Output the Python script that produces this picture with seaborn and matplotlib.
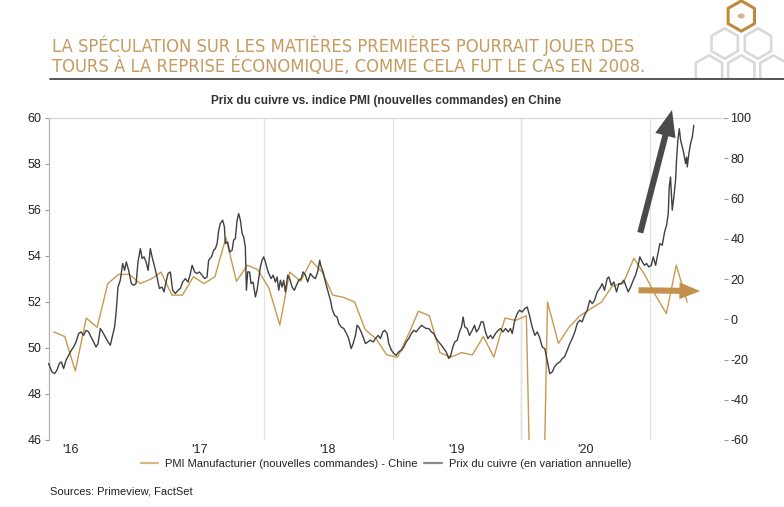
import pandas as pd
import matplotlib
matplotlib.use("Agg")
import matplotlib.pyplot as plt
import matplotlib.dates as mdates
from matplotlib.lines import Line2D
from matplotlib.patches import RegularPolygon, Rectangle, Ellipse
from matplotlib.ticker import FixedLocator
import seaborn as sns

# ---- data ----
# PMI new orders (China), monthly, May 2016 -> Apr 2021
pmi_start = "2016-05-01"
pmi_values = [
    50.7, 50.5, 49.0, 51.3, 50.9, 52.8, 53.2, 53.2,
    52.8, 53.0, 53.3, 52.3, 52.3, 53.1, 52.8, 53.1, 54.8, 52.9, 53.6, 53.4,
    52.6, 51.0, 53.3, 52.9, 53.8, 53.3, 52.3, 52.2, 52.0, 50.8, 50.4, 49.7,
    49.6, 50.6, 51.6, 51.4, 49.8, 49.6, 49.8, 49.7, 50.5, 49.6, 51.3, 51.2,
    51.4, 29.3, 52.0, 50.2, 50.9, 51.4, 51.7, 52.0, 52.7, 52.8, 53.9, 53.2,
    52.3, 51.5, 53.6, 52.0,
]

# copper price, yoy %, position = months elapsed since 1 Jan 2016
copper_month = [
    3.95, 4.27, 4.51, 4.73, 4.95, 5.14, 5.35, 5.57, 5.82, 6.07, 6.28, 6.51, 6.75, 6.97,
    7.21, 7.44, 7.68, 7.90, 8.15, 8.37, 8.56, 8.77, 8.98, 9.24, 9.49, 9.70, 9.92, 10.10,
    10.23, 10.42, 10.63, 10.85, 11.03, 11.19, 11.41, 11.66, 11.87, 12.10, 12.28, 12.50,
    12.66, 12.84, 13.03, 13.22, 13.43, 13.59, 13.83, 14.05, 14.27, 14.52, 14.71, 14.89,
    15.08, 15.29, 15.51, 15.76, 16.01, 16.23, 16.44, 16.69, 16.94, 17.16, 17.32, 17.56,
    17.78, 18.00, 18.25, 18.49, 18.71, 18.86, 19.12, 19.33,
    19.49, 19.65, 19.80, 19.95, 20.17, 20.33, 20.42, 20.63, 20.82, 21.05, 21.19, 21.35,
    21.51, 21.66, 21.82, 21.98, 22.13, 22.28, 22.38, 22.50, 22.68, 22.81, 23.00, 23.22,
    23.37, 23.52, 23.68, 23.84, 23.99, 24.15, 24.31, 24.46, 24.68, 24.87, 25.08, 25.24,
    25.39, 25.55, 25.70, 25.85, 26.01, 26.23, 26.41, 26.64, 26.85, 27.04, 27.25, 27.48,
    27.66, 27.88, 28.09, 28.34, 28.59, 28.81, 29.02, 29.21, 29.34, 29.53, 29.74, 29.95,
    30.21, 30.36, 30.58, 30.83, 30.98, 31.20, 31.45, 31.70, 31.91, 32.14, 32.32, 32.54,
    32.69, 32.84, 33.07, 33.25, 33.47, 33.68, 33.93, 34.19, 34.40,
    34.65, 34.87, 35.08, 35.27, 35.49, 35.64, 35.89, 36.11, 36.33, 36.57, 36.82, 37.04,
    37.26, 37.50, 37.75, 37.97, 38.19, 38.44, 38.69, 38.90, 39.13, 39.37, 39.62, 39.83,
    40.06, 40.30, 40.55, 40.77, 40.99, 41.23, 41.42, 41.61, 41.79, 42.02, 42.23, 42.42,
    42.57, 42.72, 42.95, 43.16, 43.41, 43.63, 43.81, 44.03, 44.25, 44.44, 44.65, 44.87,
    45.12, 45.33, 45.58, 45.84, 46.05, 46.27, 46.52, 46.77, 46.98, 47.14, 47.38, 47.61,
    47.82, 48.07, 48.31, 48.54, 48.75, 49.00, 49.25, 49.47, 49.68, 49.94, 50.18,
    50.46, 50.64, 50.87, 51.08, 51.33, 51.58, 51.80, 52.01, 52.27, 52.51, 52.73, 52.98,
    53.20, 53.44, 53.66, 53.88, 54.13, 54.37, 54.60, 54.81, 55.06, 55.30, 55.53, 55.74,
    55.99, 56.14, 56.37, 56.61, 56.86, 57.08, 57.30, 57.54, 57.77, 57.95, 58.17, 58.42,
    58.63, 58.85, 59.03, 59.26, 59.47, 59.66, 59.87, 60.10, 60.28, 60.50, 60.71, 60.90,
    61.12, 61.34, 61.52, 61.68, 61.77, 61.89, 62.05, 62.20, 62.36, 62.45, 62.57, 62.71,
    62.83, 62.99, 63.13, 63.29, 63.39, 63.45, 63.60, 63.76, 63.92, 64.06,
]
copper_yoy = [
    -22.0, -26.2, -27.0, -25.3, -22.0, -21.2, -24.5, -20.4, -17.9, -15.4, -13.8, -11.3, -7.1, -6.3,
    -8.0, -5.5, -6.3, -8.8, -11.3, -13.8, -12.1, -4.6, -6.3, -8.8, -11.3, -12.9, -8.0, -3.8,
    2.8, 16.0, 19.4, 27.7, 24.3, 28.5, 24.3, 17.7, 16.9, 17.7, 28.5, 35.1,
    30.2, 31.0, 28.5, 24.3, 35.1, 31.0, 26.0, 21.0, 15.3, 16.0, 13.6, 18.5,
    22.7, 23.5, 14.4, 12.8, 14.4, 15.3, 18.5, 20.2, 18.5, 22.7, 26.8, 23.5,
    22.7, 23.5, 21.9, 20.2, 21.0, 29.3, 31.0, 34.3,
    35.1, 37.6, 44.2, 47.6, 49.2, 45.9, 37.6, 38.4, 33.4, 34.3, 39.3, 40.1,
    49.2, 52.5, 49.2, 42.6, 40.9, 35.9, 14.4, 23.5, 23.5, 17.7, 18.5, 11.1,
    14.4, 20.2, 26.0, 29.3, 31.0, 28.5, 25.2, 22.7, 20.2, 21.9, 18.5, 21.0,
    14.4, 19.4, 16.0, 19.4, 13.6, 21.9, 20.2, 16.0, 14.4, 16.9, 19.4, 20.2,
    23.5, 21.9, 18.5, 22.7, 21.0, 20.2, 23.5, 29.3, 26.0, 23.5, 18.5, 14.4,
    9.4, 5.3, 2.0, 1.1, -2.1, -3.8, -4.6, -7.1, -9.6, -14.6, -12.1, -8.0,
    -3.0, -3.8, -6.3, -8.8, -12.1, -11.3, -10.4, -11.3, -9.6,
    -8.0, -9.6, -6.3, -5.5, -7.1, -12.1, -15.4, -17.0, -17.9, -16.2, -15.4, -13.8,
    -11.3, -9.6, -7.1, -5.5, -6.3, -4.6, -3.0, -3.8, -4.6, -4.6, -6.3, -7.1,
    -9.6, -11.3, -12.9, -14.6, -16.2, -19.5, -17.9, -13.8, -11.3, -10.4, -6.3, -3.8,
    1.1, -3.8, -4.6, -8.0, -5.5, -3.0, -6.3, -4.6, -1.3, -1.3, -6.3, -9.6,
    -8.0, -9.6, -7.1, -5.5, -4.6, -6.3, -4.6, -6.3, -4.6, -7.1, -0.5, 2.8,
    4.5, 3.6, 5.3, 6.1, 2.0, -3.8, -8.0, -6.3, -8.8, -13.8, -14.6,
    -22.0, -27.0, -26.2, -23.7, -22.0, -21.2, -19.5, -18.7, -15.4, -12.1, -9.6, -6.3,
    -2.1, -0.5, -1.3, 2.0, 4.5, 9.4, 7.8, 9.4, 13.6, 15.3, 17.7, 14.4,
    20.2, 21.0, 16.9, 18.5, 13.6, 17.7, 17.7, 19.4, 16.0, 13.6, 16.0, 19.4,
    21.9, 26.0, 31.0, 28.5, 26.8, 27.7, 26.0, 26.8, 31.0, 26.8, 32.6, 37.6,
    36.8, 43.4, 46.7, 52.5, 65.7, 70.7, 54.2, 60.8, 69.1, 79.0, 88.9, 94.7,
    88.9, 85.6, 82.3, 77.4, 80.6, 75.7, 82.3, 87.3, 90.6, 96.4,
]

year_labels = ["'16", "'17", "'18", "'19", "'20"]
left_ticks = [46, 48, 50, 52, 54, 56, 58, 60]
right_ticks = [-60, -40, -20, 0, 20, 40, 60, 80, 100]

header = ("LA SPÉCULATION SUR LES MATIÈRES PREMIÈRES POURRAIT JOUER DES\n"
          "TOURS À LA REPRISE ÉCONOMIQUE, COMME CELA FUT LE CAS EN 2008.")
title = "Prix du cuivre vs. indice PMI (nouvelles commandes) en Chine"
pmi_label = "PMI Manufacturier (nouvelles commandes) - Chine"
copper_label = "Prix du cuivre (en variation annuelle)"
source = "Sources: Primeview, FactSet"

GOLD = "#C8994F"
DARK = "#404040"

# ---- frames ----
origin = pd.Timestamp("2016-01-01")
pmi_df = pd.DataFrame({
    "date": pd.date_range(pmi_start, periods=len(pmi_values), freq="MS") + pd.Timedelta(days=14),
    "pmi": pmi_values,
})
copper_df = pd.DataFrame({
    "date": [origin + pd.Timedelta(days=m * 30.4375) for m in copper_month],
    "yoy": copper_yoy,
})

sns.set_theme(style="white")
plt.rcParams["font.family"] = ["Liberation Sans", "DejaVu Sans"]
plt.rcParams["axes.unicode_minus"] = False

fig = plt.figure(figsize=(7.84, 5.07), dpi=100)
ax = fig.add_axes([48.5 / 784, 1 - 440 / 507, 675 / 784, 322 / 507])
ax2 = ax.twinx()

sns.lineplot(data=pmi_df, x="date", y="pmi", ax=ax, color=GOLD, linewidth=1.0)
sns.lineplot(data=copper_df, x="date", y="yoy", ax=ax2, color=DARK, linewidth=1.0)

ax.set_ylim(46, 60)
ax2.set_ylim(-60, 100)
ax.set_xlim(pd.Timestamp("2016-04-30"), pd.Timestamp("2021-07-27"))
ax.set_yticks(left_ticks)
ax2.set_yticks(right_ticks)
ax.set_xlabel("")
ax.set_ylabel("")
ax2.set_ylabel("")

# year labels centred on each year, grid lines on year boundaries
ax.set_xticks([pd.Timestamp(f"{2016 + i}-07-01") for i in range(len(year_labels))])
ax.set_xticklabels(year_labels)
ax.xaxis.set_minor_locator(FixedLocator(
    [mdates.date2num(pd.Timestamp(f"{y}-01-01")) for y in (2018, 2019, 2020, 2021)]))
ax.grid(which="minor", axis="x", color="#e2e2e2", linewidth=0.9)
ax.axvline(pd.Timestamp("2020-01-01"), color="#b8b8b8", linewidth=0.9, zorder=0.5)

ax.tick_params(axis="x", which="both", length=0, labelsize=9, pad=3, colors="#222222")
ax.tick_params(axis="y", length=3, width=0.8, color="#999999", labelsize=9, pad=2,
               labelcolor="#222222", left=True)
ax2.tick_params(axis="y", length=3, width=0.8, color="#999999", labelsize=9, pad=2,
                labelcolor="#222222", right=True)

for a in (ax, ax2):
    for s in a.spines.values():
        s.set_visible(False)
ax.spines["left"].set_visible(True)
ax.spines["left"].set_color("#b0b0b0")
ax.spines["left"].set_linewidth(0.9)
ax.spines["top"].set_visible(True)
ax.spines["top"].set_color("#d8d8d8")
ax.spines["top"].set_linewidth(0.9)

# arrows
ax2.annotate("", xy=(pd.Timestamp("2021-03-03"), 104), xytext=(pd.Timestamp("2020-12-03"), 43),
             arrowprops=dict(arrowstyle="simple,head_width=0.75,head_length=0.95,tail_width=0.22",
                             color="#4a4a4a", lw=0, shrinkA=0, shrinkB=0, mutation_scale=20),
             annotation_clip=False)
ax2.annotate("", xy=(pd.Timestamp("2021-05-22"), 14), xytext=(pd.Timestamp("2020-11-28"), 14.4),
             arrowprops=dict(arrowstyle="simple,head_width=0.6,head_length=0.75,tail_width=0.22",
                             color="#C3914B", lw=0, shrinkA=0, shrinkB=0, mutation_scale=20),
             annotation_clip=False)

# texts
head = fig.text(52 / 784, 1 - 56 / 507, header, color="#C59B5F", fontsize=15.5, va="center",
                ha="left", family="DejaVu Sans", fontstretch="condensed", linespacing=1.1)
fig.canvas.draw()
w = head.get_window_extent(fig.canvas.get_renderer()).width
head.set_fontsize(15.5 * 592 / w)

fig.add_artist(Line2D([50 / 784, 1.0], [1 - 79 / 507] * 2, color="#555555", linewidth=1.4))
fig.text(386 / 784, 1 - 101 / 507, title, ha="center", va="center", fontsize=8.5,
         fontweight="bold", color="#333333")
fig.text(50 / 784, 1 - 491 / 507, source, ha="left", va="center", fontsize=8, color="#222222")

handles = [Line2D([0], [0], color="#D9B887", lw=1.6), Line2D([0], [0], color="#8a8a8a", lw=1.6)]
fig.legend(handles, [pmi_label, copper_label], loc="center", bbox_to_anchor=(0.492, 1 - 464 / 507),
           ncol=2, frameon=False, fontsize=8, handlelength=1.6, handletextpad=0.6,
           columnspacing=0.6, labelcolor="#222222")

# logo (hexagons)
px = fig.dpi_scale_trans
def hexagon(cx, cy, color, lw):
    fig.add_artist(RegularPolygon((cx / 100, (507 - cy) / 100), numVertices=6, radius=0.152,
                                  orientation=0, fill=False, edgecolor=color, linewidth=lw,
                                  transform=px, joinstyle="round"))

hexagon(741.3, 16, "#C08A3E", 2.2)
for cx, cy in [(724.7, 43.5), (758, 43.5), (709, 70.5), (741.3, 70.5), (773.5, 70.5)]:
    hexagon(cx, cy, "#d9d9d9", 1.9)
fig.add_artist(Ellipse((741.3 / 100, (507 - 16) / 100), 0.07, 0.05, transform=px,
                       facecolor="#d7b57e", edgecolor="none"))
fig.add_artist(Rectangle((6.85, (507 - 95) / 100), 1.0, 0.155, transform=px,
                         facecolor="white", edgecolor="none", zorder=2))
fig.add_artist(Line2D([0.87, 1.0], [1 - 79 / 507] * 2, color="#555555", linewidth=1.4, zorder=3))

fig.savefig("out.png", dpi=100)
